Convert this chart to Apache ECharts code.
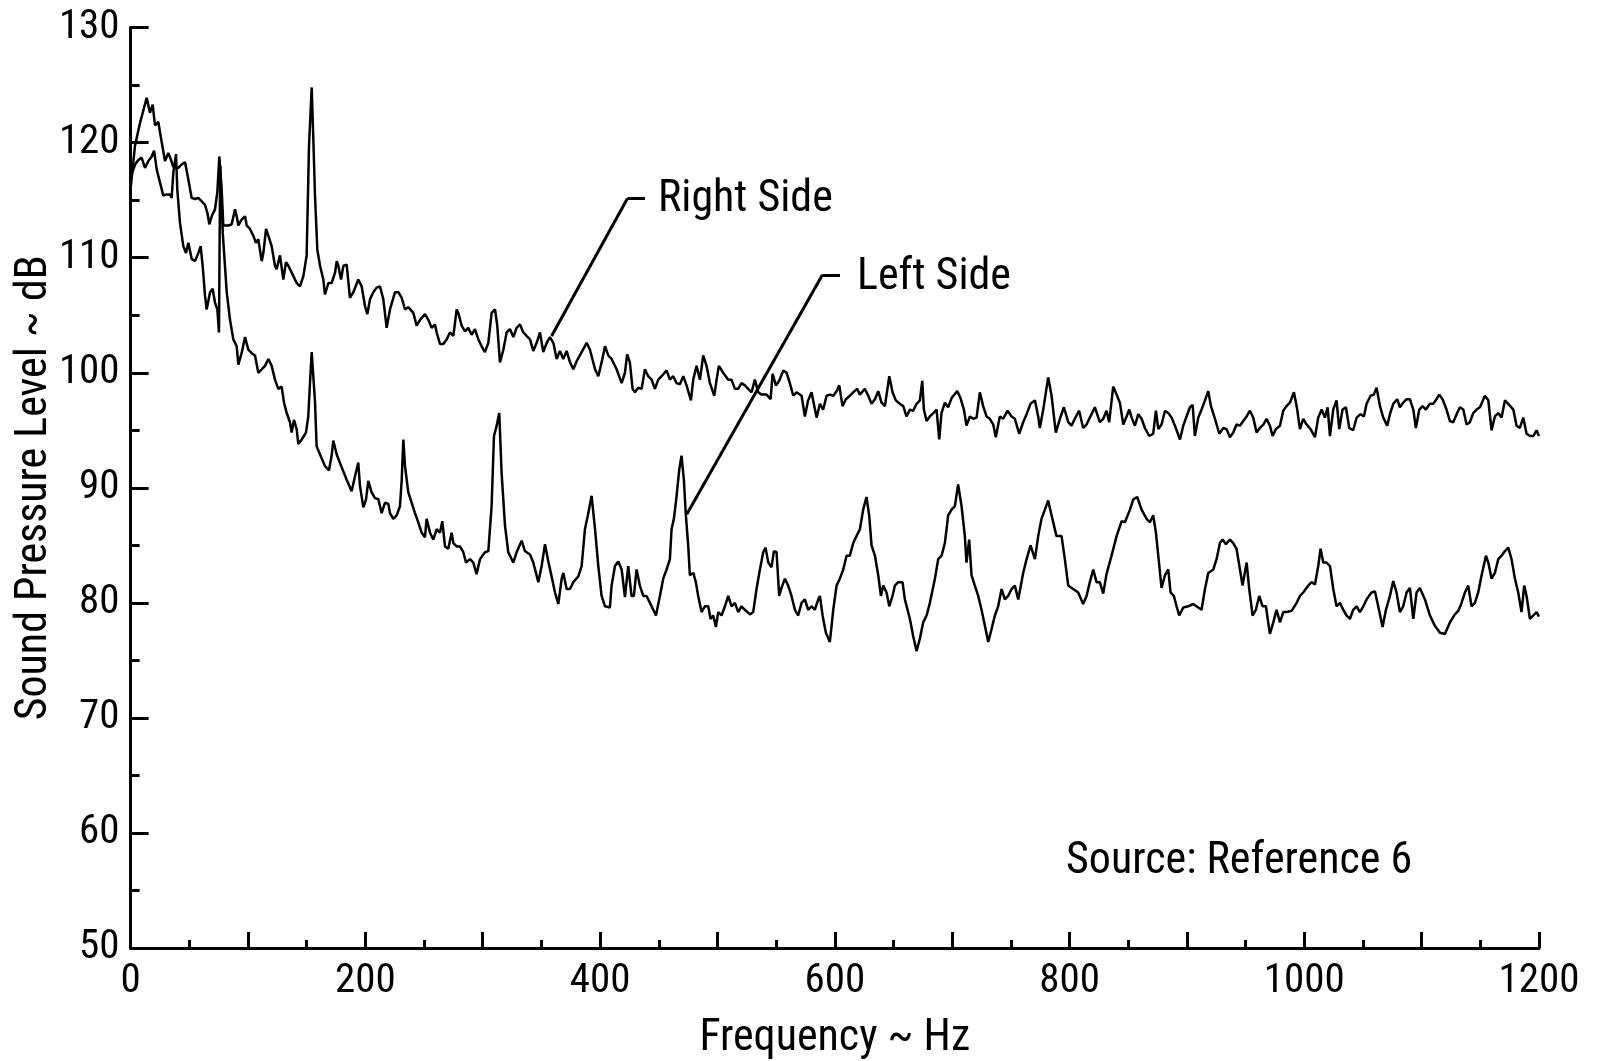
<!DOCTYPE html>
<html>
<head>
<meta charset="utf-8">
<script src="https://cdn.jsdelivr.net/npm/echarts@6/dist/echarts.min.js"></script>
<style>
html,body{margin:0;padding:0;background:#fff;}
#chart{width:1600px;height:1061px;}
</style>
</head>
<body>
<div id="chart"></div>
<script>
// Tick label values
const xLabelValues = [0, 200, 400, 600, 800, 1000, 1200];
const yLabelValues = [50, 60, 70, 80, 90, 100, 110, 120, 130];

// Right side spectrum: [frequency Hz, SPL dB]
const rightSide = [
[0,116.0],[3.7,119.7],[8,121.7],[13.7,123.9],[16.5,122.6],[18.8,123.3],[20.8,121.5],[23.6,121.8],[26.4,120.1],[29.3,118.4],
[32.1,119.1],[34.1,118.6],[36.4,117.9],[40.7,117.8],[43.5,118.1],[46.4,118.3],[49.2,116.8],[52.0,115.2],[54.9,115.1],[57.7,115.2],
[60.6,114.9],[63.4,114.6],[65.4,113.9],[67.1,112.9],[69.1,113.6],[71.9,114.2],[73.9,115.7],[75.6,118.8],[77.6,115.9],[79.0,112.8],
[83.3,112.8],[86.1,112.9],[89.0,114.2],[90.4,113.6],[91.8,112.8],[94.6,113.3],[97.5,113.6],[98.9,112.8],[101.7,112.5],[104.6,111.9],
[106.8,111.3],[108.8,111.6],[111.7,109.7],[113.1,110.4],[115.4,112.5],[117.4,111.9],[120.2,111.0],[123.0,109.3],[124.4,109.0],[127.3,110.2],
[130.1,108.1],[132.4,109.6],[134.4,109.3],[138.7,108.4],[141.5,107.8],[144.3,107.5],[147.2,108.4],[150.0,110.2],[152.0,119.7],[154.3,124.8],
[155.7,120.3],[157.1,115.4],[159.1,110.7],[161.4,109.3],[164.2,108.1],[165.6,106.8],[168.5,107.8],[171.3,107.8],[174.2,108.7],[175.6,109.7],
[177.0,109.3],[179.3,108.1],[181.3,109.3],[184.1,109.4],[186.9,106.5],[189.8,107.0],[194.0,108.1],[196.9,107.5],[199.7,105.8],[201.7,105.1],
[204.0,106.4],[206.8,107.0],[209.6,107.4],[212.5,107.5],[215.3,106.4],[218.2,103.9],[221.0,105.5],[225.3,107.0],[228.1,107.0],[231.0,106.5],
[233.8,105.5],[236.6,105.7],[240.9,105.2],[243.7,104.1],[246.6,104.6],[250.8,105.1],[253.7,104.6],[256.5,103.9],[259.3,104.2],[260.8,103.5],
[263.6,102.5],[266.4,102.5],[269.3,102.9],[272.1,103.5],[275.0,103.2],[277.8,105.5],[279.2,105.2],[282.1,104.1],[284.9,103.6],[287.7,103.9],
[290.6,103.3],[293.4,103.8],[296.3,102.9],[299.1,102.3],[301.9,101.8],[304.8,102.6],[307.6,105.2],[310.5,105.5],[312.4,104.1],[314.7,100.9],
[317.6,102.0],[320.4,103.5],[323.2,103.8],[326.1,103.1],[328.9,103.9],[331.8,104.2],[334.6,103.5],[337.4,103.2],[340.3,102.9],[343.1,101.9],
[346.0,102.6],[348.8,103.5],[351.6,101.8],[354.5,102.6],[357.3,103.1],[360.2,102.6],[363.0,101.2],[365.8,101.9],[368.7,101.2],[371.5,101.9],
[374.4,100.9],[377.2,100.3],[380.0,101.0],[384.3,101.8],[388.6,102.6],[391.4,102.0],[395.7,100.3],[398.5,99.7],[401.3,100.9],[404.2,102.3],
[407.0,101.5],[409.8,101.2],[414.1,100.3],[418.4,99.1],[421.2,100.0],[423.1,101.6],[425.4,100.9],[427.7,98.6],[429.7,98.3],[432.5,98.7],
[435.4,98.6],[438.2,100.3],[441.0,99.7],[443.9,99.4],[446.7,98.6],[449.6,99.4],[452.4,99.7],[456.7,100.2],[459.5,99.4],[462.3,99.7],
[465.2,99.1],[468.0,99.0],[470.9,99.7],[473.7,98.9],[477.4,97.6],[479.4,99.4],[482.2,100.6],[485.1,99.4],[487.9,101.5],[490.7,100.6],
[493.6,99.1],[497.3,98.0],[499.3,99.4],[501.2,100.6],[504.9,100.0],[509.2,99.4],[512.0,99.4],[514.9,98.6],[517.7,98.6],[520.5,99.1],
[523.4,98.9],[526.2,98.6],[529.1,98.3],[531.9,99.4],[534.8,98.3],[537.6,98.1],[541.9,98.1],[545.3,97.7],[547.0,99.9],[549.8,98.9],
[552.6,99.3],[556.1,100.2],[558.9,100.0],[561.7,99.1],[564.6,98.0],[567.4,98.3],[571.7,98.0],[574.5,96.2],[577.3,97.6],[580.2,98.3],
[582.5,97.1],[584.5,96.1],[587.3,97.3],[590.1,96.8],[593.0,98.0],[595.8,98.1],[598.7,98.0],[601.5,98.4],[603.8,98.9],[606.6,97.1],
[609.4,97.7],[612.8,98.0],[615.7,98.3],[619.1,98.6],[621.4,98.1],[625.6,98.6],[628.5,98.0],[631.3,97.3],[634.2,97.7],[637.0,98.4],
[639.8,97.4],[642.7,97.1],[646.4,99.7],[649.2,98.3],[652.0,97.6],[655.4,97.3],[658.3,97.1],[661.1,96.2],[664.0,96.8],[666.8,96.7],
[669.7,97.3],[672.5,97.6],[674.5,99.3],[675.9,96.8],[678.2,95.8],[681.0,96.2],[683.9,96.5],[686.7,96.8],[689.0,94.2],[690.9,96.5],
[693.8,97.4],[696.6,97.0],[699.5,97.8],[704.3,98.4],[707.1,97.8],[710.0,96.8],[712.2,95.4],[715.1,96.2],[717.9,96.0],[720.8,96.1],
[723.6,98.3],[726.4,97.1],[729.3,96.2],[732.1,96.0],[735.0,95.5],[737.2,94.4],[740.6,96.2],[743.5,96.0],[747.2,96.7],[750.6,96.2],
[753.4,96.0],[757.1,94.7],[760.5,95.7],[763.4,96.4],[766.8,97.3],[770.5,97.6],[773.3,96.2],[774.7,95.2],[777.6,96.8],[781.8,99.6],
[784.7,98.0],[788.3,94.8],[791.8,96.0],[795.2,97.0],[798.9,95.7],[801.7,95.4],[804.5,96.0],[808.2,96.7],[811.6,95.2],[814.5,95.5],
[817.3,96.1],[821.6,97.0],[825.8,95.7],[828.7,96.0],[831.5,96.7],[833.8,95.7],[837.2,98.8],[840.1,98.1],[842.9,97.4],[845.8,95.5],
[848.6,96.2],[850.9,96.8],[852.9,96.1],[855.7,95.4],[858.6,96.4],[861.4,96.0],[864.2,95.2],[867.9,94.5],[871.3,94.7],[873.6,96.7],
[875.6,95.1],[878.4,95.5],[881.3,96.7],[884.1,96.5],[887.0,96.1],[889.8,95.4],[894.1,94.2],[896.9,95.4],[899.7,96.2],[902.6,97.0],
[904.9,97.2],[906.8,94.5],[909.7,96.1],[912.5,96.8],[915.4,97.6],[918.2,98.4],[920.5,97.1],[923.9,96.0],[927.6,94.7],[931.0,95.2],
[933.8,95.1],[936.7,94.4],[939.5,94.8],[942.3,95.5],[945.2,95.4],[948.0,95.8],[950.9,96.2],[953.7,96.7],[956.5,96.1],[959.4,94.8],
[962.2,95.2],[965.1,95.5],[967.9,96.0],[970.7,95.4],[973.0,94.5],[975.8,95.1],[979.3,95.4],[982.1,96.7],[984.9,97.1],[987.8,97.4],
[991.2,98.3],[994.0,96.8],[996.3,95.1],[999.1,96.0],[1002.0,95.5],[1005.4,95.1],[1009.1,94.4],[1011.9,96.1],[1014.8,96.8],[1017.6,96.1],
[1019.9,97.0],[1021.9,94.5],[1024.7,96.8],[1027.5,97.6],[1029.8,95.1],[1032.6,96.8],[1035.5,97.0],[1038.3,95.2],[1041.7,95.0],[1044.6,96.1],
[1048.0,96.4],[1050.8,96.2],[1053.1,97.3],[1056.5,98.0],[1059.3,98.1],[1061.6,98.7],[1064.5,97.1],[1067.3,96.1],[1070.7,95.4],[1073.0,96.4],
[1075.8,97.3],[1079.2,97.7],[1081.5,97.0],[1084.3,97.4],[1087.2,97.7],[1090.0,97.7],[1092.9,96.8],[1095.1,95.2],[1098.0,96.8],[1100.8,97.1],
[1103.6,96.8],[1107.1,97.3],[1109.9,97.3],[1112.7,97.7],[1115.0,98.1],[1117.8,97.7],[1121.2,96.8],[1124.1,95.8],[1126.9,95.7],[1129.8,96.4],
[1132.6,97.0],[1135.5,96.8],[1138.3,95.5],[1141.1,95.7],[1144.0,96.5],[1146.8,96.8],[1149.7,97.0],[1153.9,98.0],[1156.8,97.6],[1159.6,95.0],
[1162.4,96.2],[1165.3,96.5],[1168.1,96.1],[1171.0,97.6],[1173.8,97.3],[1178.1,96.8],[1180.9,95.4],[1183.7,95.2],[1186.6,96.1],[1189.4,94.7],
[1192.3,94.5],[1195.1,94.5],[1197.9,95.0],[1200,94.5]
];

// Left side spectrum: [frequency Hz, SPL dB]
const leftSide = [
[0,117.0],[3.8,118.1],[6.6,118.5],[9.4,118.7],[12.3,117.8],[15.1,118.4],[18.0,118.8],[20.0,119.3],[22.2,117.7],[25.1,116.5],
[27.9,115.4],[30.7,115.5],[33.6,115.5],[35.0,115.2],[36.4,117.4],[38.7,119.0],[39.8,115.9],[42.1,113.0],[44.9,111.0],[47.2,110.4],
[49.2,111.3],[52.0,109.9],[54.9,109.7],[57.7,110.4],[59.7,111.0],[61.4,109.3],[63.4,106.7],[64.8,105.5],[67.7,107.0],[69.9,107.3],
[71.9,106.1],[73.9,105.5],[75.3,103.5],[76.3,118.0],[77.5,115.0],[78.5,112.2],[81.9,107.0],[84.7,104.6],[87.5,102.9],[90.4,102.3],
[91.8,100.7],[94.6,101.7],[97.5,103.1],[100.3,102.0],[103.2,101.7],[106.0,101.5],[108.8,100.0],[111.7,100.3],[114.5,100.6],[117.4,101.2],
[120.2,100.6],[123.0,99.4],[125.9,98.6],[128.7,98.8],[130.7,97.4],[133.0,96.5],[135.8,95.7],[137.2,94.8],[139.2,95.9],[141.5,95.1],
[142.9,93.8],[145.8,94.2],[149.4,94.8],[151.4,96.2],[152.8,99.0],[154.3,101.8],[155.8,99.5],[157.1,97.5],[158.5,93.6],[161.4,92.9],
[165.6,91.9],[169.0,91.5],[171.3,92.8],[172.7,94.1],[175.6,92.9],[179.8,91.8],[184.1,90.7],[188.3,89.7],[191.2,91.0],[194.0,92.2],
[195.4,90.2],[198.3,88.3],[200.6,89.0],[202.5,90.6],[205.4,89.6],[208.2,89.1],[211.1,89.0],[213.9,87.8],[216.7,88.7],[219.6,88.6],
[221.0,87.8],[223.8,87.3],[226.7,87.6],[229.5,88.4],[231.0,90.7],[232.4,94.2],[233.8,91.9],[236.6,89.6],[239.5,88.7],[242.3,87.8],
[245.1,87.0],[248.0,86.1],[250.8,85.7],[252.2,87.3],[255.1,86.1],[257.9,85.5],[260.8,86.4],[263.6,86.1],[265.6,87.1],[267.9,84.9],
[270.7,84.7],[273.5,86.1],[275.0,85.2],[277.8,84.9],[280.6,84.9],[283.5,84.4],[285.8,83.5],[289.2,83.8],[292.0,83.5],[294.8,82.5],
[297.7,83.8],[301.9,84.4],[304.8,84.5],[307.6,88.4],[309.6,94.5],[311.9,95.4],[314.1,96.5],[316.1,91.3],[319.0,86.7],[321.8,84.4],
[326.1,83.5],[328.9,84.4],[333.2,85.4],[336.0,84.5],[340.3,84.2],[343.1,83.5],[347.4,81.8],[350.2,83.2],[353.1,85.1],[355.9,83.6],
[358.7,82.3],[361.6,80.9],[364.4,79.9],[367.3,82.1],[368.7,82.6],[371.5,81.2],[374.4,81.2],[377.2,81.8],[381.5,82.3],[384.3,83.2],
[387.1,86.4],[390.0,87.8],[392.8,89.3],[395.7,86.4],[398.5,83.2],[401.3,80.6],[404.2,79.7],[408.4,79.6],[409.8,81.5],[412.7,83.2],
[415.5,83.6],[418.4,82.9],[421.2,80.5],[424.0,83.2],[426.8,80.6],[428.8,80.6],[431.1,82.9],[433.9,81.5],[436.8,80.6],[439.6,80.6],
[442.5,80.0],[445.3,79.4],[447.6,78.9],[451.0,80.6],[453.8,82.1],[456.7,82.9],[459.5,83.8],[460.9,86.4],[462.9,87.3],[465.2,89.3],
[467.5,91.6],[469.4,92.8],[471.4,90.7],[473.1,87.6],[475.1,85.0],[476.5,82.4],[479.4,82.6],[481.6,81.8],[483.6,80.6],[486.5,79.2],
[489.3,79.7],[492.2,79.7],[494.1,78.6],[496.4,78.9],[498.7,77.9],[500.7,79.2],[503.5,78.9],[506.4,79.7],[509.2,80.6],[512.0,79.7],
[514.9,80.0],[517.7,79.2],[520.5,79.7],[523.4,79.4],[527.7,79.0],[530.5,79.2],[533.3,81.2],[536.2,82.9],[539.0,84.4],[541.0,84.8],
[543.3,83.5],[546.1,83.1],[548.1,84.5],[550.4,84.4],[552.6,80.6],[554.6,81.3],[557.5,82.1],[560.3,81.5],[563.1,80.6],[566.0,79.4],
[568.8,78.9],[571.7,80.0],[574.5,80.3],[577.3,79.4],[580.2,79.7],[583.0,79.4],[585.9,80.3],[587.3,80.6],[589.6,78.9],[592.4,77.4],
[595.8,76.6],[598.7,79.4],[601.5,81.5],[604.3,82.1],[607.2,82.9],[610.0,84.1],[612.8,84.1],[615.7,85.2],[618.5,85.8],[621.4,86.4],
[624.2,88.1],[627.0,89.2],[629.3,87.6],[631.3,85.0],[634.2,84.1],[637.0,82.4],[639.3,80.6],[641.3,81.5],[644.1,80.9],[646.4,79.7],
[649.2,80.6],[651.2,81.5],[654.0,81.8],[657.7,81.8],[659.7,80.3],[664.0,78.6],[666.8,77.1],[669.7,75.8],[672.5,76.9],[675.3,78.3],
[678.2,78.9],[681.0,80.0],[685.3,82.1],[688.1,83.8],[691.0,84.1],[693.8,85.2],[696.6,87.6],[699.5,88.1],[702.3,88.4],[705.1,90.3],
[708.0,88.4],[710.8,85.8],[712.2,83.5],[714.5,85.5],[716.5,82.4],[719.3,81.5],[722.2,80.6],[725.0,79.4],[727.9,78.0],[730.7,76.6],
[733.5,77.7],[736.4,78.9],[739.2,79.7],[742.1,81.2],[744.9,80.3],[747.7,80.6],[750.6,81.2],[753.4,81.5],[756.3,80.3],[760.5,82.6],
[763.4,83.8],[766.8,85.0],[770.5,83.8],[773.3,85.8],[776.1,87.3],[779.0,88.1],[781.8,88.9],[784.7,87.6],[788.9,85.8],[793.2,85.8],
[796.0,83.8],[798.9,81.5],[803.1,81.2],[807.4,80.9],[811.6,79.9],[814.5,80.6],[817.3,81.8],[820.2,82.9],[823.0,81.8],[825.8,81.8],
[828.7,80.8],[831.5,82.5],[835.8,84.1],[840.1,85.8],[844.4,87.1],[847.2,87.0],[851.5,88.1],[854.3,89.0],[857.7,89.2],[861.4,88.1],
[865.7,87.3],[868.5,87.0],[871.3,87.6],[873.6,86.1],[875.6,84.1],[878.4,81.3],[881.3,82.4],[884.1,82.9],[886.1,80.9],[888.9,80.6],
[891.2,79.7],[893.5,78.9],[896.9,79.6],[901.2,79.7],[905.4,79.9],[909.7,79.6],[912.5,79.4],[915.4,81.2],[918.2,82.6],[922.5,82.9],
[925.3,83.8],[928.1,85.2],[930.4,85.5],[933.2,85.1],[936.7,85.5],[939.5,85.2],[942.3,84.7],[945.2,82.9],[947.4,81.5],[950.9,83.5],
[953.1,81.2],[956.0,78.9],[958.8,79.4],[961.6,80.6],[964.5,79.7],[967.3,79.7],[970.7,77.3],[973.6,78.3],[976.4,79.4],[979.3,78.3],
[982.1,79.2],[984.9,79.2],[989.2,79.3],[993.5,80.0],[996.3,80.6],[999.1,80.9],[1003.4,81.5],[1006.2,81.8],[1009.1,81.6],[1011.9,83.2],
[1013.9,84.7],[1016.2,83.5],[1019.0,83.5],[1021.9,83.2],[1024.7,81.2],[1027.5,79.7],[1030.4,80.0],[1033.2,79.4],[1036.1,78.9],[1038.9,78.6],
[1041.7,79.4],[1044.6,79.7],[1047.4,79.2],[1050.3,79.7],[1053.1,80.3],[1057.3,80.9],[1060.2,81.0],[1063.0,79.7],[1066.7,77.9],[1069.6,79.4],
[1073.0,80.6],[1075.8,81.9],[1078.6,80.9],[1081.5,79.2],[1084.3,79.7],[1087.2,80.9],[1090.0,81.3],[1092.9,78.6],[1095.7,80.9],[1098.5,81.3],
[1102.8,80.3],[1107.1,78.9],[1111.3,78.0],[1115.6,77.4],[1119.8,77.3],[1124.1,78.3],[1128.3,79.0],[1131.2,79.3],[1134.0,80.0],[1136.9,80.9],
[1139.7,81.5],[1142.5,79.7],[1145.4,80.0],[1148.2,80.9],[1151.1,82.4],[1154.8,84.1],[1156.8,83.5],[1159.6,82.1],[1162.4,82.6],[1165.3,83.8],
[1168.1,84.1],[1171.0,84.5],[1173.8,84.8],[1176.6,83.8],[1179.5,82.1],[1182.3,80.9],[1185.1,79.2],[1187.4,81.5],[1189.4,80.6],[1192.3,78.6],
[1195.1,78.9],[1197.9,79.2],[1200,78.8]
];

// Pick a narrow font if one is installed, otherwise fall back to Liberation Sans
function hasFont(name) {
  const c = document.createElement('canvas').getContext('2d');
  const s = 'Sound Pressure 0123456789 Right Side';
  c.font = '40px monospace'; const w1 = c.measureText(s).width;
  c.font = "40px '" + name + "', monospace"; const w2 = c.measureText(s).width;
  c.font = '40px serif'; const w3 = c.measureText(s).width;
  c.font = "40px '" + name + "', serif"; const w4 = c.measureText(s).width;
  return Math.abs(w1 - w2) > 0.5 || Math.abs(w3 - w4) > 0.5;
}
const narrowCandidates = ['Liberation Sans Narrow', 'Arial Narrow', 'Roboto Condensed', 'Nimbus Sans Narrow', 'Open Sans Condensed', 'Noto Sans Condensed'];
let narrow = narrowCandidates.find(hasFont);
const FONT = narrow ? "'" + narrow + "', sans-serif" : "'Liberation Sans', Arial, sans-serif";
const TICK_SIZE = narrow ? 41 : 36;
const TEXT_SIZE = narrow ? 44 : 38;
const INK = '#000';

const chart = echarts.init(document.getElementById('chart'), null, {renderer: 'canvas'});
const option = {
  animation: false,
  backgroundColor: '#fff',
  grid: {left: 130.6, right: 61, top: 27.6, bottom: 113, containLabel: false, outerBoundsMode: 'none'},
  xAxis: {
    type: 'value', min: 0, max: 1200, interval: 100,
    name: 'Frequency ~ Hz', nameLocation: 'middle', nameGap: 69, nameMoveOverlap: false,
    nameTextStyle: {fontFamily: FONT, fontSize: TEXT_SIZE, color: INK},
    axisLine: {show: true, onZero: false, lineStyle: {color: INK, width: 3}},
    axisTick: {show: true, inside: true, length: 16, lineStyle: {color: INK, width: 3}},
    minorTick: {show: true, splitNumber: 2, length: 8, lineStyle: {color: INK, width: 3}},
    splitLine: {show: false},
    axisLabel: {
      fontFamily: FONT, fontSize: TICK_SIZE, color: INK, margin: 13,
      formatter: v => xLabelValues.includes(v) ? String(v) : ''
    }
  },
  yAxis: {
    type: 'value', min: 50, max: 130, interval: 10,
    name: 'Sound Pressure Level ~ dB', nameLocation: 'middle', nameGap: 74, nameRotate: 90, nameMoveOverlap: false,
    nameTextStyle: {fontFamily: FONT, fontSize: TEXT_SIZE, color: INK},
    axisLine: {show: true, onZero: false, lineStyle: {color: INK, width: 3}},
    axisTick: {show: true, inside: true, length: 18, lineStyle: {color: INK, width: 3}},
    minorTick: {show: true, splitNumber: 2, length: 9, lineStyle: {color: INK, width: 3}},
    splitLine: {show: false},
    axisLabel: {
      fontFamily: FONT, fontSize: TICK_SIZE, color: INK, margin: 11,
      formatter: v => yLabelValues.includes(v) ? String(v) : ''
    }
  },
  series: [
    {
      name: 'Right Side', type: 'line', data: rightSide, showSymbol: false, symbol: 'none',
      lineStyle: {color: INK, width: 2.5}, clip: true, silent: true,
      markLine: {
        silent: true, symbol: ['none', 'none'], animation: false,
        label: {show: false}, lineStyle: {color: INK, width: 3, type: 'solid'},
        data: [
          [{coord: [358.7, 103.2]}, {coord: [423.3, 115.15]}],
          [{coord: [423.3, 115.15]}, {coord: [438.2, 115.15]}]
        ]
      },
      markPoint: {
        silent: true, symbol: 'circle', symbolSize: 0, animation: false,
        label: {show: true, position: 'right', distance: 0, fontFamily: FONT, fontSize: TEXT_SIZE, color: INK, verticalAlign: 'middle'},
        data: [
          {coord: [449.3, 115.05], label: {formatter: 'Right Side'}},
          {coord: [797, 57.45], label: {formatter: 'Source: Reference 6'}}
        ]
      }
    },
    {
      name: 'Left Side', type: 'line', data: leftSide, showSymbol: false, symbol: 'none',
      lineStyle: {color: INK, width: 2.5}, clip: true, silent: true,
      markLine: {
        silent: true, symbol: ['none', 'none'], animation: false,
        label: {show: false}, lineStyle: {color: INK, width: 3, type: 'solid'},
        data: [
          [{coord: [473.9, 87.7]}, {coord: [589.4, 108.5]}],
          [{coord: [589.4, 108.5]}, {coord: [604.4, 108.5]}]
        ]
      },
      markPoint: {
        silent: true, symbol: 'circle', symbolSize: 0, animation: false,
        label: {show: true, position: 'right', distance: 0, fontFamily: FONT, fontSize: TEXT_SIZE, color: INK, verticalAlign: 'middle'},
        data: [
          {coord: [618.9, 108.25], label: {formatter: 'Left Side'}}
        ]
      }
    }
  ]
};
chart.setOption(option);
</script>
</body>
</html>
